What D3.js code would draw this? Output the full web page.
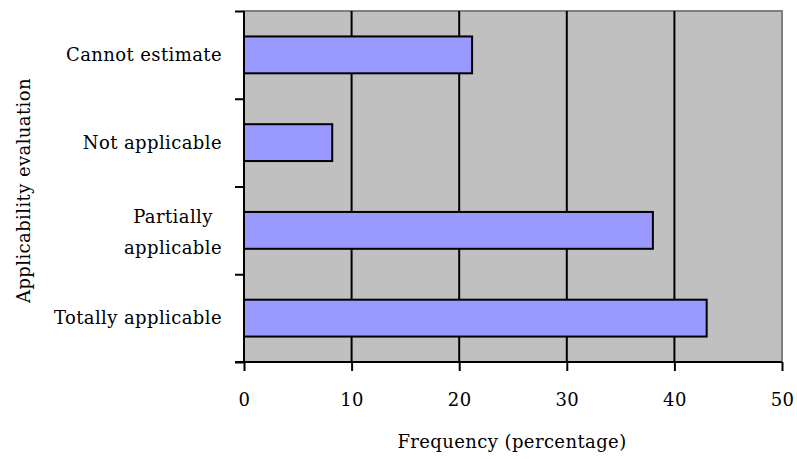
<!DOCTYPE html>
<html><head><meta charset="utf-8">
<script src="https://cdn.jsdelivr.net/npm/d3@7"></script>
<style>body{margin:0;background:#fff}svg{display:block}</style>
</head><body><svg id="c" width="797" height="459"></svg>
<script>
const categories = ["Cannot estimate", "Not applicable", "Partially applicable", "Totally applicable"];
const labelLines = [["Cannot estimate"], ["Not applicable"], ["Partially", "applicable"], ["Totally applicable"]];
const values = [21.2, 8.2, 38, 43];
const xTicks = [0, 10, 20, 30, 40, 50];
const xTitle = "Frequency (percentage)";
const yTitle = "Applicability evaluation";

const FONT = "'DejaVu Serif', serif";
const svg = d3.select("#c");
const L = 244, R = 782, T = 11, B = 362;
const x = d3.scaleLinear().domain([0, 50]).range([L, R]);
const y = d3.scaleBand().domain(categories).range([T, B]).paddingInner(0.58).paddingOuter(0.29);
const fs = 18, ls = "0.4px";

svg.append("rect").attr("x", L).attr("y", T).attr("width", R - L).attr("height", B - T)
  .attr("fill", "#c0c0c0").attr("stroke", "#808080").attr("stroke-width", 2);

svg.append("g").selectAll("line").data(xTicks.filter(d => d > 0 && d < 50)).join("line")
  .attr("x1", d => x(d)).attr("x2", d => x(d)).attr("y1", T).attr("y2", B)
  .attr("stroke", "#000").attr("stroke-width", 2);

svg.append("g").selectAll("rect").data(values).join("rect")
  .attr("x", x(0)).attr("y", (d, i) => y(categories[i]))
  .attr("width", d => x(d) - x(0)).attr("height", y.bandwidth())
  .attr("fill", "#9999ff").attr("stroke", "#000").attr("stroke-width", 2);

const xa = svg.append("g").attr("transform", `translate(0,${B})`)
  .call(d3.axisBottom(x).tickValues(xTicks).tickSize(9).tickPadding(22).tickFormat(d3.format("d")));
xa.attr("font-family", null).attr("font-size", null);
xa.select(".domain").attr("stroke", "#000").attr("stroke-width", 2).attr("d", `M${L - 9},0H${R}`);
xa.selectAll(".tick line").attr("stroke", "#000").attr("stroke-width", 2);
xa.selectAll(".tick text").style("font-family", FONT).style("font-size", fs + "px").style("letter-spacing", ls).attr("fill", "#000");

const yb = d3.scaleLinear().domain([0, 4]).range([T, B]);
const ya = svg.append("g").attr("transform", `translate(${L},0)`)
  .call(d3.axisLeft(yb).tickValues([0, 1, 2, 3, 4]).tickSize(9).tickFormat(""));
ya.select(".domain").attr("stroke", "#000").attr("stroke-width", 2).attr("d", `M0,${T}V${B}`);
ya.selectAll(".tick line").attr("stroke", "#000").attr("stroke-width", 2);

function txt(g) {
  return g.append("text").style("font-family", FONT).style("font-size", fs + "px").style("letter-spacing", ls).attr("fill", "#000");
}

const lab = svg.append("g");
categories.forEach((c, i) => {
  const cy = y(c) + y.bandwidth() / 2;
  const lines = labelLines[i];
  if (lines.length === 1) {
    txt(lab).attr("x", 222).attr("y", cy).attr("dy", "0.35em").attr("text-anchor", "end").text(lines[0]);
  } else {
    const t = txt(lab).attr("text-anchor", "middle");
    const lh = 31;
    lines.forEach((ln, j) => {
      t.append("tspan").attr("y", cy + (j - (lines.length - 1) / 2) * lh + 2).attr("dy", "0.35em").text(ln);
    });
    const w = d3.max(t.selectAll("tspan").nodes(), n => n.getComputedTextLength());
    t.selectAll("tspan").attr("x", 222 - w / 2);
  }
});

txt(svg).attr("x", (L + R) / 2 - 1).attr("y", 442).attr("dy", "0.35em").attr("text-anchor", "middle").text(xTitle);
txt(svg).attr("transform", `translate(24,${(T + B) / 2 + 4}) rotate(-90)`).attr("dy", "0.35em")
  .attr("text-anchor", "middle").text(yTitle);
</script></body></html>
